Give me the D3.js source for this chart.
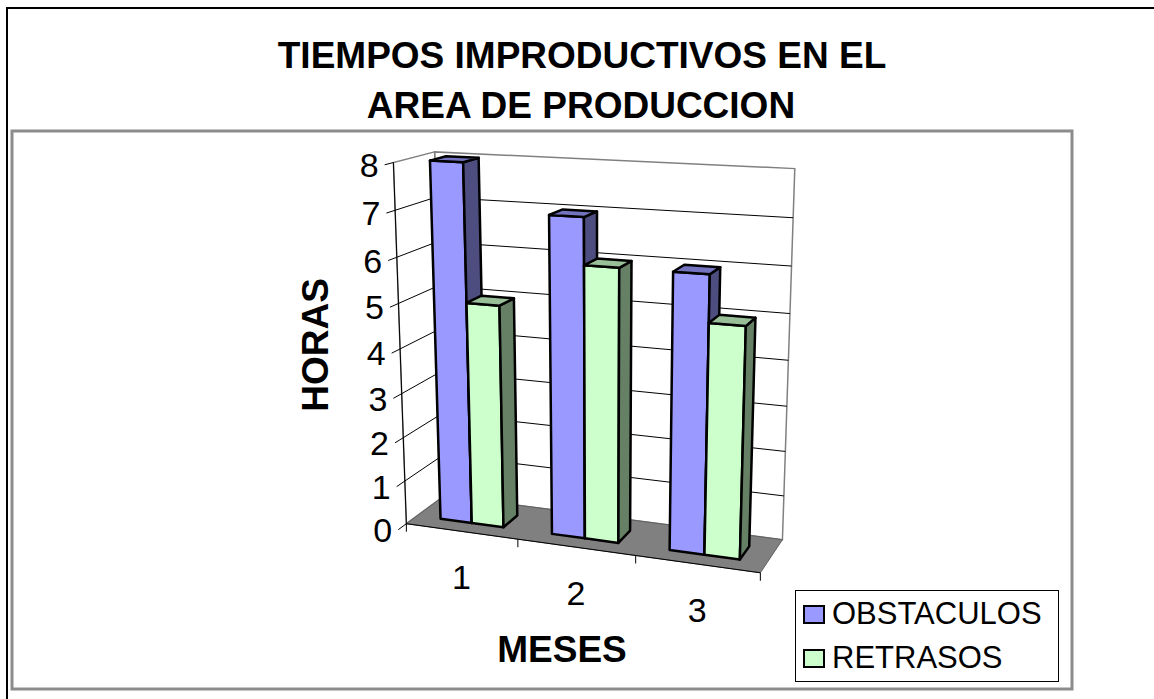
<!DOCTYPE html>
<html>
<head>
<meta charset="utf-8">
<script src="https://cdn.jsdelivr.net/npm/d3@7"></script>
<style>
  body { margin: 0; background: #fff; }
  svg { display: block; font-family: "Liberation Sans", Arial, sans-serif; }
</style>
</head>
<body>
<svg width="1154" height="699"></svg>
<script>
// ---- data ----
const categories = ["1", "2", "3"];
const seriesNames = ["OBSTACULOS", "RETRASOS"];
const obstaculos = [8, 7, 6];
const retrasos = [5, 6, 5];
const yTicks = [0, 1, 2, 3, 4, 5, 6, 7, 8];

const colors = {
    OBSTACULOS: { front: "#9999ff", top: "#7373bf", side: "#4d4d80" },
    RETRASOS: { front: "#ccffcc", top: "#99bf99", side: "#668066" }
};

// ---- perspective box: unit box [X, Y, Z] -> screen, fitted on a few box corners ----
const frontAxisY = [523, 481, 438, 393, 348, 303, 257, 211, 163];
const backEdgeY = [540, 496, 451, 406, 360, 313, 266, 218, 169];
const calib = [];
frontAxisY.forEach((py, i) => calib.push([0, i / 8, 0, 407 - 14 * i / 8, py]));
backEdgeY.forEach((py, i) => calib.push([1, i / 8, 1, 782 + 13 * i / 8, py]));
calib.push([0, 1, 1, 435, 152], [0, 0, 1, 444, 496], [1, 0, 0, 760, 572],
           [1 / 3, 0, 0, 518, 540], [2 / 3, 0, 0, 636, 557]);

function fitCamera(pts) {
    const A = [], b = [];
    pts.forEach(([X, Y, Z, u, v]) => {
        A.push([X, Y, Z, 1, 0, 0, 0, 0, -u * X, -u * Y, -u * Z]); b.push(u);
        A.push([0, 0, 0, 0, X, Y, Z, 1, -v * X, -v * Y, -v * Z]); b.push(v);
    });
    const n = 11;
    const M = d3.range(n).map(i => {
        const row = new Array(n + 1).fill(0);
        for (let k = 0; k < A.length; k++) {
            for (let j = 0; j < n; j++) row[j] += A[k][i] * A[k][j];
            row[n] += A[k][i] * b[k];
        }
        return row;
    });
    for (let c = 0; c < n; c++) {
        let p = c;
        for (let r = c + 1; r < n; r++) if (Math.abs(M[r][c]) > Math.abs(M[p][c])) p = r;
        [M[c], M[p]] = [M[p], M[c]];
        for (let r = 0; r < n; r++) {
            if (r === c) continue;
            const f = M[r][c] / M[c][c];
            for (let k = c; k <= n; k++) M[r][k] -= f * M[c][k];
        }
    }
    return M.map((r, i) => r[n] / r[i]);
}
const P = fitCamera(calib);
function proj(X, Y, Z) {
    const w = P[8] * X + P[9] * Y + P[10] * Z + 1;
    return [(P[0] * X + P[1] * Y + P[2] * Z + P[3]) / w,
            (P[4] * X + P[5] * Y + P[6] * Z + P[7]) / w];
}
const poly = pts => "M" + pts.map(p => proj(...p).join(",")).join("L") + "Z";
const seg = (a, b) => "M" + proj(...a).join(",") + "L" + proj(...b).join(",");

// ---- scales ----
const x = d3.scaleBand().domain(categories).range([0, 1]);
const xs = d3.scaleBand().domain(seriesNames).range([0, x.bandwidth()]).paddingOuter(0.75);
const y = d3.scaleLinear().domain([0, 8]).range([0, 1]);
const z0 = 0.28, z1 = 0.68;

const svg = d3.select("svg");

// frames
svg.append("path").attr("d", "M7,699V8H1154").attr("fill", "none").attr("stroke", "#000").attr("stroke-width", 2);
svg.append("rect").attr("x", 12).attr("y", 131).attr("width", 1060).attr("height", 558)
    .attr("fill", "none").attr("stroke", "#8c8c8c").attr("stroke-width", 3);

// title
svg.append("text").attr("x", 582).attr("y", 68).attr("text-anchor", "middle")
    .attr("font-size", 37).attr("font-weight", "bold").text("TIEMPOS IMPRODUCTIVOS EN EL");
svg.append("text").attr("x", 581).attr("y", 118).attr("text-anchor", "middle")
    .attr("font-size", 37).attr("font-weight", "bold").text("AREA DE PRODUCCION");

// walls & floor
const g = svg.append("g");
g.append("path").attr("d", poly([[0, 0, 1], [1, 0, 1], [1, 1, 1], [0, 1, 1]]))
    .attr("fill", "#fff").attr("stroke", "#808080").attr("stroke-width", 1.5);
g.append("path").attr("d", poly([[0, 0, 0], [0, 0, 1], [0, 1, 1], [0, 1, 0]]))
    .attr("fill", "#fff").attr("stroke", "#808080").attr("stroke-width", 1.5);
g.append("path").attr("d", poly([[0, 0, 0], [1, 0, 0], [1, 0, 1], [0, 0, 1]]))
    .attr("fill", "#808080").attr("stroke", "#606060").attr("stroke-width", 1);

// gridlines
yTicks.filter(v => v > 0 && v < 8).forEach(v => {
    g.append("path").attr("d", seg([0, y(v), 1], [1, y(v), 1]) + seg([0, y(v), 0], [0, y(v), 1]))
        .attr("stroke", "#000").attr("stroke-width", 1).attr("fill", "none");
});

// value axis
g.append("path").attr("d", seg([0, 0, 0], [0, 1, 0])).attr("stroke", "#000").attr("stroke-width", 1);
yTicks.forEach(v => {
    g.append("path").attr("d", seg([0, y(v), 0], [0, y(v), -0.2])).attr("stroke", "#000").attr("stroke-width", 1);
    const p = proj(0, y(v), -0.2);
    g.append("text").attr("x", p[0] - 6).attr("y", p[1]).attr("dy", "0.36em")
        .attr("text-anchor", "end").attr("font-size", 34).text(v);
});

// category axis
g.append("path").attr("d", seg([0, 0, 0], [1, 0, 0])).attr("stroke", "#000").attr("stroke-width", 1);
[0, ...categories.map(c => x(c) + x.bandwidth())].forEach(t => {
    const p = proj(t, 0, 0);
    g.append("path").attr("d", `M${p[0]},${p[1]}V${p[1] + 8}`).attr("stroke", "#000").attr("stroke-width", 1);
});
categories.forEach(c => {
    const p = proj(x(c) + x.bandwidth() / 2, 0, 0);
    g.append("text").attr("x", p[0]).attr("y", p[1] + 58).attr("text-anchor", "middle")
        .attr("font-size", 34).text(c);
});

// bars
const bars = g.append("g").attr("stroke", "#000").attr("stroke-width", 2.5).attr("stroke-linejoin", "round");
categories.forEach((c, i) => {
    [obstaculos[i], retrasos[i]].forEach((val, s) => {
        const name = seriesNames[s];
        const a = x(c) + xs(name), b = a + xs.bandwidth(), h = y(val);
        bars.append("path").attr("fill", colors[name].front)
            .attr("d", poly([[a, 0, z0], [b, 0, z0], [b, h, z0], [a, h, z0]]));
        bars.append("path").attr("fill", colors[name].side)
            .attr("d", poly([[b, 0, z0], [b, 0, z1], [b, h, z1], [b, h, z0]]));
        bars.append("path").attr("fill", colors[name].top)
            .attr("d", poly([[a, h, z0], [b, h, z0], [b, h, z1], [a, h, z1]]));
    });
});

// axis titles
svg.append("text").attr("transform", "translate(328,345) rotate(-90)").attr("text-anchor", "middle")
    .attr("font-size", 37).attr("font-weight", "bold").text("HORAS");
svg.append("text").attr("x", 562).attr("y", 662).attr("text-anchor", "middle")
    .attr("font-size", 37).attr("font-weight", "bold").text("MESES");

// legend
const lg = svg.append("g");
lg.append("rect").attr("x", 795.5).attr("y", 590.5).attr("width", 263).attr("height", 91)
    .attr("fill", "#fff").attr("stroke", "#000").attr("stroke-width", 1);
seriesNames.forEach((name, i) => {
    const yy = 606 + i * 44;
    lg.append("rect").attr("x", 804).attr("y", yy).attr("width", 20).attr("height", 17)
        .attr("fill", colors[name].front).attr("stroke", "#000").attr("stroke-width", 2);
    lg.append("text").attr("x", 832).attr("y", yy + 18).attr("font-size", 31).text(name);
});
</script>
</body>
</html>
